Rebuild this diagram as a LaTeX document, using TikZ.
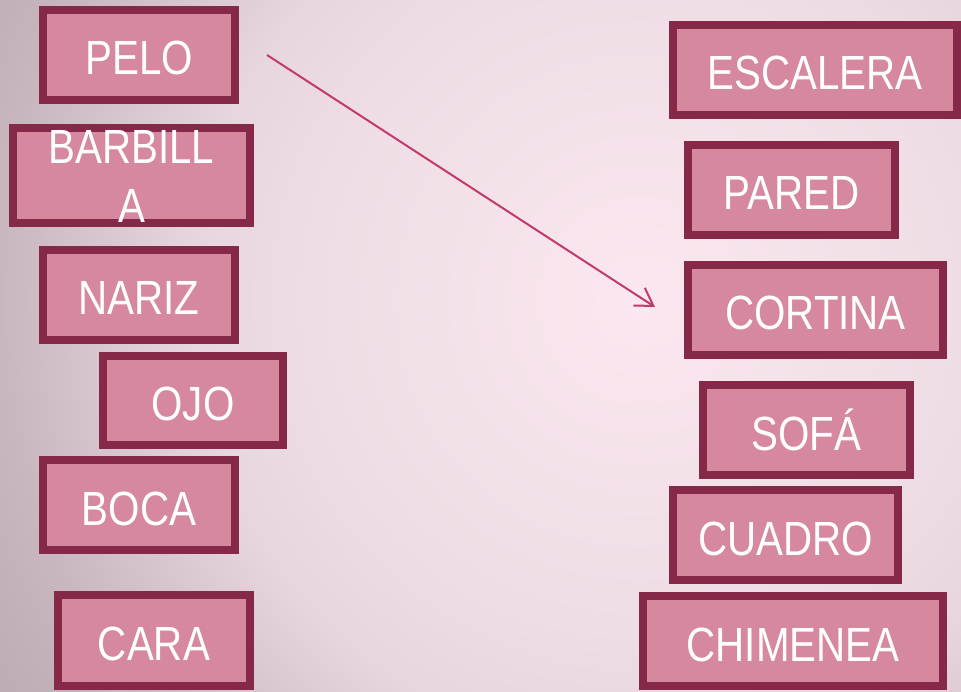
\documentclass[tikz,border=0pt]{standalone}
\usepackage{fontspec}
\setmainfont[FakeStretch=0.84]{Liberation Sans}
\usetikzlibrary{arrows.meta}
\definecolor{boxfill}{HTML}{D6889F}
\definecolor{boxline}{HTML}{862848}
\definecolor{arrowcol}{HTML}{C23A6B}
\definecolor{bgA}{HTML}{FBE7EF}
\definecolor{bgB}{HTML}{EEDDE4}
\definecolor{bgC}{HTML}{E8D6DE}
\definecolor{bgD}{HTML}{C8B7BF}
\definecolor{bgE}{HTML}{BAA6B0}
\pgfdeclareradialshading{bgshade}{\pgfpoint{0bp}{0bp}}{%
  color(0bp)=(bgA); color(10.3bp)=(bgB); color(14bp)=(bgC);
  color(20bp)=(bgD); color(25bp)=(bgE); color(50bp)=(bgE)}
\tikzset{
  wordbox/.style={draw=boxline, fill=boxfill, line width=8pt, inner sep=0pt,
    text=white, font=\fontsize{48}{59}\selectfont,
    text height=40pt, text depth=0pt, minimum height=90pt},
  linkarrow/.style={draw=arrowcol, line width=2pt,
    -{Straight Barb[length=17pt,width=21pt]}}
}
\begin{document}
\begin{tikzpicture}[x=1pt,y=-1pt]
\useasboundingbox (0,0) rectangle (961,692);
\begin{scope}
  \clip (0,0) rectangle (961,692);
  \shade[shading=bgshade] (640,300) circle (800);
\end{scope}
% left column
\node[wordbox, minimum width=192pt] (pelo) at (139,55) {PELO};
\node[wordbox, minimum width=237pt, align=center, text height=95pt, minimum height=89pt] (barbilla) at (131.5,175.5) {BARBILL\\A};
\node[wordbox, minimum width=192pt] (nariz) at (139,295) {NARIZ};
\node[wordbox, minimum width=180pt, minimum height=89pt] (ojo) at (193,400.5) {OJO};
\node[wordbox, minimum width=192pt] (boca) at (139,505) {BOCA};
\node[wordbox, minimum width=192pt, minimum height=91pt] (cara) at (154,640.5) {CARA};
% right column
\node[wordbox, minimum width=284pt] (escalera) at (815,70) {ESCALERA};
\node[wordbox, minimum width=207pt] (pared) at (791.5,190) {PARED};
\node[wordbox, minimum width=255pt] (cortina) at (815.5,310) {CORTINA};
\node[wordbox, minimum width=207pt] (sofa) at (806.5,430) {SOFÁ};
\node[wordbox, minimum width=225pt] (cuadro) at (785.5,535) {CUADRO};
\node[wordbox, minimum width=300pt] (chimenea) at (793,641) {CHIMENEA};
% arrow
\coordinate (astart) at (267,55);
\coordinate (aend) at (655,307);
\draw[linkarrow] (astart) -- (aend);
\end{tikzpicture}
\end{document}
